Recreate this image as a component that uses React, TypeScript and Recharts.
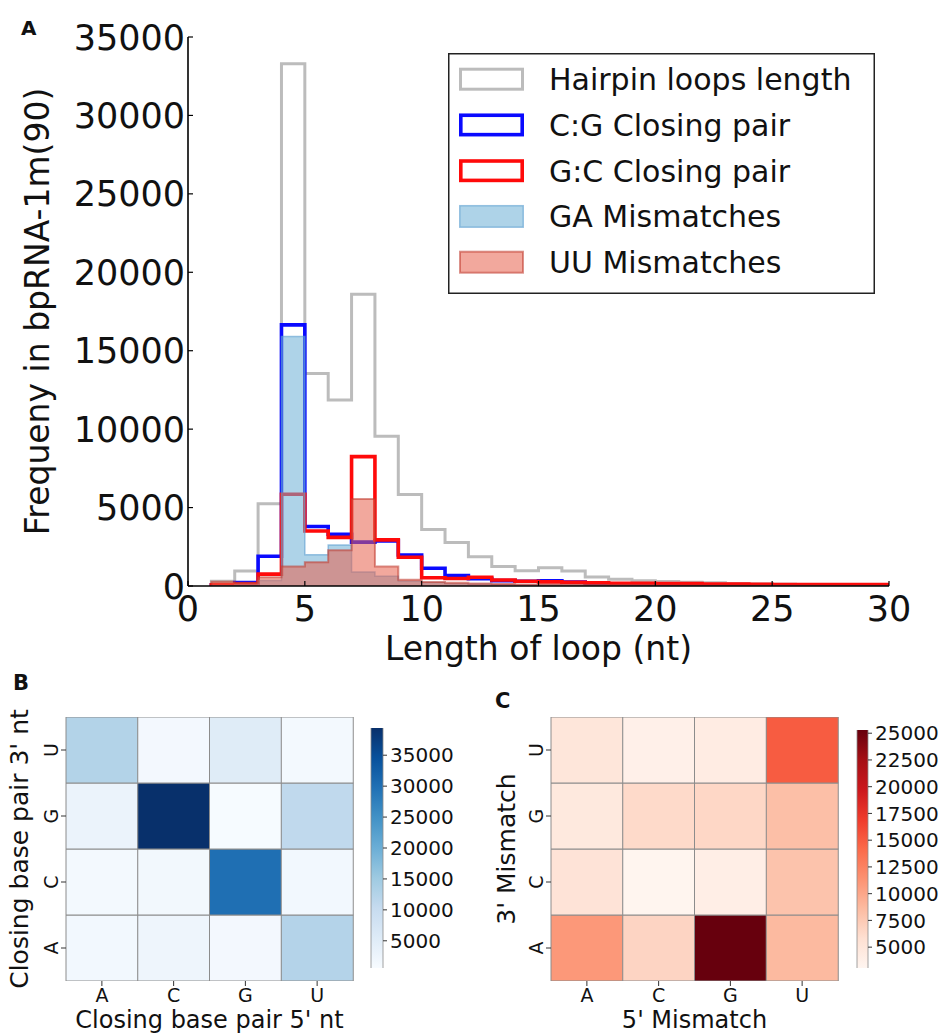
import React from 'react';
import { ComposedChart, Area, XAxis, YAxis, Legend, BarChart, Bar, Cell } from 'recharts';

const FONT = '"DejaVu Sans", "Bitstream Vera Sans", Verdana, sans-serif';
const INK = '#111111';

// ---------------- Panel A: hairpin loop length histograms ----------------
const binStarts = [1, 2, 3, 4, 5, 6, 7, 8, 9, 10, 11, 12, 13, 14, 15, 16, 17, 18, 19, 20, 21, 22, 23, 24, 25, 26, 27, 28, 29];
const hairpinLoops = [300, 950, 5250, 33300, 13550, 11850, 18600, 9550, 5830, 3600, 2770, 1870, 1250, 970, 1170, 960, 580, 430, 330, 280, 240, 200, 160, 130, 110, 90, 80, 70, 60];
const cgClosingPair = [60, 220, 1900, 16650, 3790, 3300, 2800, 2880, 1980, 1130, 660, 470, 340, 300, 330, 250, 160, 120, 90, 70, 60, 50, 40, 35, 30, 25, 20, 20, 15];
const gcClosingPair = [80, 120, 760, 5850, 3510, 3100, 8250, 2940, 1830, 530, 480, 560, 380, 300, 260, 230, 200, 180, 170, 160, 150, 130, 120, 110, 100, 100, 90, 90, 100];
const gaMismatches = [20, 60, 350, 15900, 2000, 2620, 900, 620, 300, 220, 150, 110, 90, 70, 60, 50, 40, 30, 25, 20, 20, 15, 10, 10, 10, 5, 5, 5, 5];
const uuMismatches = [270, 200, 560, 1250, 1520, 2280, 5550, 1250, 400, 260, 200, 160, 120, 100, 90, 80, 70, 60, 50, 45, 40, 35, 30, 30, 25, 25, 20, 20, 20];
const lengthTicks = [0, 5, 10, 15, 20, 25, 30];
const frequencyTicks = [0, 5000, 10000, 15000, 20000, 25000, 30000, 35000];

type HistRow = { x: number; hp: number; cg: number; gc: number; ga: number; uu: number };
const zeroRow = (x: number): HistRow => ({ x, hp: 0, cg: 0, gc: 0, ga: 0, uu: 0 });
const rowAt = (i: number, x: number): HistRow => ({
  x,
  hp: hairpinLoops[i],
  cg: cgClosingPair[i],
  gc: gcClosingPair[i],
  ga: gaMismatches[i],
  uu: uuMismatches[i],
});
const lastBin = binStarts.length - 1;
const histRows: HistRow[] = [
  zeroRow(binStarts[0]),
  ...binStarts.map((x, i) => rowAt(i, x)),
  rowAt(lastBin, binStarts[lastBin] + 1),
  zeroRow(binStarts[lastBin] + 1),
];

const histSeries = [
  { key: 'hp', name: 'Hairpin loops length', stroke: '#bcbcbc', strokeWidth: 3, fill: 'none', fillOpacity: 0, strokeOpacity: 1 },
  { key: 'cg', name: 'C:G Closing pair', stroke: '#0a0aff', strokeWidth: 3.6, fill: 'none', fillOpacity: 0, strokeOpacity: 1 },
  { key: 'gc', name: 'G:C Closing pair', stroke: '#ff0a0a', strokeWidth: 3.6, fill: 'none', fillOpacity: 0, strokeOpacity: 1 },
  { key: 'ga', name: 'GA Mismatches', stroke: '#5b9fd0', strokeWidth: 1.5, fill: '#6baed6', fillOpacity: 0.55, strokeOpacity: 0.6 },
  { key: 'uu', name: 'UU Mismatches', stroke: '#c0392b', strokeWidth: 2, fill: '#e8604c', fillOpacity: 0.55, strokeOpacity: 0.55 },
];

const BottomTick = (p: any) => (
  <g>
    <line x1={p.x} x2={p.x} y1={p.y} y2={p.y - 5} stroke="#000" strokeWidth={1.2} />
    <text x={p.x} y={p.y + 35} textAnchor="middle" fontSize={35} fontFamily={FONT} fill={INK}>
      {p.payload.value}
    </text>
  </g>
);
const TopTick = (p: any) => (
  <line x1={p.x} x2={p.x} y1={p.y} y2={p.y + 5} stroke="#000" strokeWidth={1.2} />
);
const LeftTick = (p: any) => (
  <g>
    <line x1={p.x} x2={p.x + 5} y1={p.y} y2={p.y} stroke="#000" strokeWidth={1.2} />
    <text x={p.x - 3} y={p.y} dy="0.36em" textAnchor="end" fontSize={35} fontFamily={FONT} fill={INK}>
      {p.payload.value}
    </text>
  </g>
);
const RightTick = (p: any) => (
  <line x1={p.x} x2={p.x - 5} y1={p.y} y2={p.y} stroke="#000" strokeWidth={1.2} />
);

const HistLegend = () => {
  const rowStep = 45.75;
  return (
    <svg width={427} height={241} style={{ display: 'block' }}>
      <rect x={0.75} y={0.75} width={425.5} height={239.5} fill="#fff" stroke="#222" strokeWidth={1.5} />
      {histSeries.map((s, i) => {
        const top = 14.7 + i * rowStep;
        const filled = s.fill !== 'none';
        const sw = s.strokeWidth;
        return (
          <g key={s.key}>
            <rect
              x={11 + sw / 2}
              y={top + sw / 2}
              width={65 - sw}
              height={23 - sw}
              fill={filled ? s.fill : '#fff'}
              fillOpacity={filled ? s.fillOpacity : 1}
              stroke={s.stroke}
              strokeOpacity={s.strokeOpacity}
              strokeWidth={sw}
            />
            <text x={101} y={37 + i * rowStep} fontSize={30} fontFamily={FONT} fill={INK}>
              {s.name}
            </text>
          </g>
        );
      })}
    </svg>
  );
};

// ---------------- Panels B and C: heatmaps ----------------
const ntLabels = ['A', 'C', 'G', 'U'];
// rows: 3' nt (A, C, G, U from bottom); columns: 5' nt (A, C, G, U)
const closingPairCounts = [
  [1500, 2300, 1400, 12500],
  [1300, 1600, 30000, 1500],
  [2900, 39400, 700, 11000],
  [12600, 1400, 5200, 1300],
];
const mismatchCounts = [
  [11000, 6700, 25300, 8700],
  [5400, 3100, 4000, 8000],
  [4700, 6300, 6500, 8300],
  [5100, 3700, 4300, 15000],
];
const closingPairRange = [600, 39400];
const mismatchRange = [3050, 25300];
const closingPairTicks = [5000, 10000, 15000, 20000, 25000, 30000, 35000];
const mismatchTicks = [5000, 7500, 10000, 12500, 15000, 17500, 20000, 22500, 25000];

const BLUES = ['#f7fbff', '#deebf7', '#c6dbef', '#9ecae1', '#6baed6', '#4292c6', '#2171b5', '#08519c', '#08306b'];
const REDS = ['#fff5f0', '#fee0d2', '#fcbba1', '#fc9272', '#fb6a4a', '#ef3b2c', '#cb181d', '#a50f15', '#67000d'];

const hexToRgb = (h: string) => [1, 3, 5].map((k) => parseInt(h.slice(k, k + 2), 16));
const colormap = (stops: string[], t: number) => {
  const tt = Math.max(0, Math.min(1, t));
  const pos = tt * (stops.length - 1);
  const i = Math.min(stops.length - 2, Math.floor(pos));
  const f = pos - i;
  const a = hexToRgb(stops[i]);
  const b = hexToRgb(stops[i + 1]);
  const c = a.map((v, k) => Math.round(v + (b[k] - v) * f));
  return `rgb(${c[0]},${c[1]},${c[2]})`;
};

const RotatedTick = (p: any) => {
  const cx = p.x - 7.5;
  const label = ntLabels[Math.floor(p.payload.value)];
  return (
    <text
      x={cx}
      y={p.y}
      dy="0.36em"
      textAnchor="middle"
      transform={`rotate(-90, ${cx}, ${p.y})`}
      fontSize={19}
      fontFamily={FONT}
      fill={INK}
    >
      {label}
    </text>
  );
};

function Heatmap(props: { matrix: number[][]; stops: string[]; range: number[]; width: number; yAxisWidth: number }) {
  const { matrix, stops, range, width, yAxisWidth } = props;
  const rows = ntLabels.map((nt) => ({ nt, r0: 1, r1: 1, r2: 1, r3: 1 }));
  return (
    <BarChart
      width={width}
      height={355}
      data={rows}
      margin={{ top: 37, right: 7, left: 0, bottom: 0 }}
      barCategoryGap={0}
      barGap={0}
    >
      <XAxis
        dataKey="nt"
        height={54}
        tickSize={5}
        tickMargin={3}
        axisLine={false}
        tickLine={{ stroke: '#333', strokeWidth: 1 }}
        tick={{ fontSize: 19, fill: INK, fontFamily: FONT }}
        interval={0}
      />
      <YAxis
        type="number"
        domain={[0, 4]}
        ticks={[0.5, 1.5, 2.5, 3.5]}
        width={yAxisWidth}
        tickSize={5}
        tickMargin={2}
        axisLine={false}
        tickLine={{ stroke: '#333', strokeWidth: 1 }}
        tick={(p: any) => <RotatedTick {...p} />}
        interval={0}
        allowDataOverflow
      />
      {ntLabels.map((rowNt, i) => (
        <Bar key={rowNt} dataKey={`r${i}`} stackId="cells" isAnimationActive={false} stroke="#8c8c8c" strokeWidth={1}>
          {ntLabels.map((colNt, j) => (
            <Cell key={colNt} fill={colormap(stops, (matrix[i][j] - range[0]) / (range[1] - range[0]))} />
          ))}
        </Bar>
      ))}
    </BarChart>
  );
}

const makeColorbarShape = (id: string, stops: string[]) => (p: any) => {
  const { x, y, width, height } = p;
  const tipUp = 11;
  const tipDown = 12;
  const outline = `M${x},${y} L${x + width / 2},${y - tipUp} L${x + width},${y} L${x + width},${y + height} L${x + width / 2},${y + height + tipDown} L${x},${y + height} Z`;
  return (
    <g>
      <defs>
        <linearGradient id={id} x1="0" y1="1" x2="0" y2="0">
          {stops.map((c, k) => (
            <stop key={k} offset={k / (stops.length - 1)} stopColor={c} />
          ))}
        </linearGradient>
      </defs>
      <rect x={x} y={y} width={width} height={height} fill={`url(#${id})`} />
      <path d={`M${x},${y} L${x + width / 2},${y - tipUp} L${x + width},${y} Z`} fill={stops[stops.length - 1]} />
      <path d={`M${x},${y + height} L${x + width / 2},${y + height + tipDown} L${x + width},${y + height} Z`} fill={stops[0]} />
      <path d={outline} fill="none" stroke="#8a8a8a" strokeWidth={0.8} />
    </g>
  );
};

function Colorbar(props: { id: string; stops: string[]; range: number[]; ticks: number[]; barWidth: number; top: number; plotHeight: number }) {
  const { id, stops, range, ticks, barWidth, top, plotHeight } = props;
  const data = [{ name: 'cb', range: [range[0], range[1]] }];
  const axisWidth = 80;
  const left = 11;
  const width = 110;
  return (
    <BarChart
      width={width}
      height={355}
      data={data}
      margin={{ top, right: width - left - barWidth - axisWidth, left, bottom: 355 - top - plotHeight }}
      barCategoryGap={0}
      barGap={0}
    >
      <XAxis dataKey="name" hide />
      <YAxis
        orientation="right"
        type="number"
        domain={[range[0], range[1]]}
        ticks={ticks}
        width={axisWidth}
        tickSize={4}
        tickMargin={3}
        axisLine={false}
        tickLine={{ stroke: '#333', strokeWidth: 1 }}
        tick={{ fontSize: 20, fill: INK, fontFamily: FONT }}
        interval={0}
        allowDataOverflow
      />
      <Bar dataKey="range" isAnimationActive={false} shape={makeColorbarShape(id, stops)} />
    </BarChart>
  );
}

export default function App() {
  return (
    <div
      style={{
        position: 'absolute',
        left: 0,
        top: 0,
        width: 943,
        height: 1035,
        overflow: 'hidden',
        background: '#fff',
        fontFamily: FONT,
      }}
    >
      <div style={{ position: 'absolute', left: 0, top: 0 }}>
        <ComposedChart width={943} height={670} data={histRows} margin={{ top: 37, right: 54, left: 0, bottom: 0 }}>
          <XAxis
            dataKey="x"
            type="number"
            domain={[0, 30]}
            ticks={lengthTicks}
            height={84}
            tickSize={0}
            tickMargin={0}
            tickLine={false}
            axisLine={{ stroke: '#000', strokeWidth: 1.6 }}
            tick={(p: any) => <BottomTick {...p} />}
            interval={0}
            allowDataOverflow
          />
          <XAxis
            xAxisId="top"
            orientation="top"
            type="number"
            domain={[0, 30]}
            ticks={lengthTicks}
            height={0}
            tickSize={0}
            tickMargin={0}
            tickLine={false}
            axisLine={{ stroke: '#000', strokeWidth: 1.6 }}
            tick={(p: any) => <TopTick {...p} />}
            interval={0}
            allowDataOverflow
          />
          <YAxis
            type="number"
            domain={[0, 35000]}
            ticks={frequencyTicks}
            width={188}
            tickSize={0}
            tickMargin={0}
            tickLine={false}
            axisLine={{ stroke: '#000', strokeWidth: 1.6 }}
            tick={(p: any) => <LeftTick {...p} />}
            interval={0}
            allowDataOverflow
          />
          <YAxis
            yAxisId="right"
            orientation="right"
            type="number"
            domain={[0, 35000]}
            ticks={frequencyTicks}
            width={0}
            tickSize={0}
            tickMargin={0}
            tickLine={false}
            axisLine={{ stroke: '#000', strokeWidth: 1.6 }}
            tick={(p: any) => <RightTick {...p} />}
            interval={0}
            allowDataOverflow
          />
          {histSeries.map((s) => (
            <Area
              key={s.key}
              dataKey={s.key}
              name={s.name}
              type="stepAfter"
              stroke={s.stroke}
              strokeWidth={s.strokeWidth}
              strokeOpacity={s.strokeOpacity}
              strokeLinejoin="miter"
              fill={s.fill}
              fillOpacity={s.fillOpacity}
              dot={false}
              activeDot={false}
              isAnimationActive={false}
            />
          ))}
          <Legend
            layout="vertical"
            align="center"
            verticalAlign="middle"
            content={() => <HistLegend />}
            wrapperStyle={{ position: 'absolute', left: 448, top: 53, width: 427, height: 241 }}
          />
        </ComposedChart>
      </div>

      <div style={{ position: 'absolute', left: 0, top: 680 }}>
        <Heatmap matrix={closingPairCounts} stops={BLUES} range={closingPairRange} width={360} yAxisWidth={66} />
      </div>
      <div style={{ position: 'absolute', left: 360, top: 680 }}>
        <Colorbar id="bluesGrad" stops={BLUES} range={closingPairRange} ticks={closingPairTicks} barWidth={12} top={48} plotHeight={240} />
      </div>

      <div style={{ position: 'absolute', left: 460, top: 680 }}>
        <Heatmap matrix={mismatchCounts} stops={REDS} range={mismatchRange} width={385} yAxisWidth={91} />
      </div>
      <div style={{ position: 'absolute', left: 846, top: 680 }}>
        <Colorbar id="redsGrad" stops={REDS} range={mismatchRange} ticks={mismatchTicks} barWidth={11} top={50} plotHeight={238} />
      </div>

      <svg
        width={943}
        height={1035}
        style={{ position: 'absolute', left: 0, top: 0, pointerEvents: 'none' }}
        fontFamily={FONT}
        fill={INK}
      >
        <text x={21} y={35} fontSize={20} fontWeight="bold">A</text>
        <text x={538.5} y={660} fontSize={33} textAnchor="middle">Length of loop (nt)</text>
        <text x={49} y={311.5} fontSize={33} textAnchor="middle" transform="rotate(-90, 49, 311.5)">Frequeny in bpRNA-1m(90)</text>

        <text x={13} y={690} fontSize={21} fontWeight="bold">B</text>
        <text x={209.5} y={1028} fontSize={24} textAnchor="middle">Closing base pair 5' nt</text>
        <text x={28} y={849} fontSize={25} textAnchor="middle" transform="rotate(-90, 28, 849)">Closing base pair 3' nt</text>

        <text x={495} y={708} fontSize={21} fontWeight="bold">C</text>
        <text x={694.5} y={1028} fontSize={24} textAnchor="middle">5' Mismatch</text>
        <text x={515} y={849} fontSize={25} textAnchor="middle" transform="rotate(-90, 515, 849)">3' Mismatch</text>
      </svg>
    </div>
  );
}
